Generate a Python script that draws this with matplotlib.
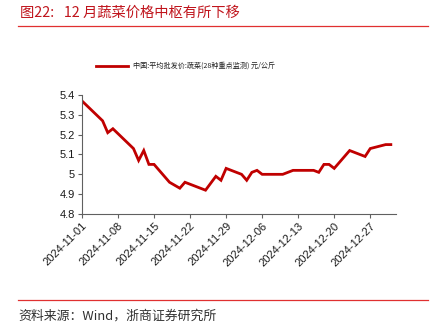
import numpy as np
import matplotlib.pyplot as plt
import matplotlib.dates as mdates
import pandas as pd
from matplotlib.lines import Line2D

plt.rcParams['font.family'] = ['Liberation Sans', 'Noto Sans CJK SC', 'DejaVu Sans']

# 平均批发价: 蔬菜(28种重点监测), 元/公斤
dates = ['2024-11-01', '2024-11-05', '2024-11-06', '2024-11-07', '2024-11-11',
         '2024-11-12', '2024-11-13', '2024-11-14', '2024-11-15', '2024-11-18',
         '2024-11-20', '2024-11-21', '2024-11-25', '2024-11-27', '2024-11-28',
         '2024-11-29', '2024-12-02', '2024-12-03', '2024-12-04', '2024-12-05',
         '2024-12-06', '2024-12-10', '2024-12-12', '2024-12-16', '2024-12-17',
         '2024-12-18', '2024-12-19', '2024-12-20', '2024-12-23', '2024-12-26',
         '2024-12-27', '2024-12-30', '2024-12-31']
price = [5.37, 5.27, 5.21, 5.23, 5.13,
         5.07, 5.12, 5.05, 5.05, 4.96,
         4.93, 4.96, 4.92, 4.99, 4.97,
         5.03, 5.00, 4.97, 5.01, 5.02,
         5.00, 5.00, 5.02, 5.02, 5.01,
         5.05, 5.05, 5.03, 5.12, 5.09,
         5.13, 5.15, 5.15]
tick_dates = ['2024-11-01', '2024-11-08', '2024-11-15', '2024-11-22', '2024-11-29',
              '2024-12-06', '2024-12-13', '2024-12-20', '2024-12-27']
yticks = [4.8, 4.9, 5.0, 5.1, 5.2, 5.3, 5.4]

red = '#C00000'
cjk = ['Noto Sans CJK SC', 'DejaVu Sans']

fig = plt.figure(figsize=(4.39, 3.33), dpi=100)
ax = fig.add_axes([0.1868, 0.3574, 0.7152, 0.3573])

x = pd.to_datetime(dates)
ax.plot(x, price, color=red, lw=2.0, solid_joinstyle='miter')

ax.set_ylim(4.8, 5.4)
ax.set_yticks(yticks)
ax.set_yticklabels(['%g' % v for v in yticks], fontsize=8)
ax.set_xlim(pd.Timestamp('2024-11-01'), pd.Timestamp('2025-01-01'))
ax.set_xticks(pd.to_datetime(tick_dates))
ax.set_xticklabels(tick_dates, fontsize=8, rotation=45, ha='right',
                   rotation_mode='anchor')

for s in ['top', 'right']:
    ax.spines[s].set_visible(False)
for s in ['left', 'bottom']:
    ax.spines[s].set_color('#606060')
    ax.spines[s].set_linewidth(0.8)
ax.tick_params(direction='out', length=3, width=0.8, color='#606060',
               labelcolor='#1a1a1a', pad=2)

# legend above the plot
fig.add_artist(Line2D([96 / 439, 128 / 439], [1 - 66 / 333] * 2,
                      color=red, lw=2.0))
fig.text(133 / 439, 1 - 66 / 333, '中国:平均批发价:蔬菜(28种重点监测) 元/公斤',
         fontsize=5.1, va='center', family=cjk, color='#202020')

# title and source
fig.text(20 / 439, 1 - 13 / 333, '图22:   12 月蔬菜价格中枢有所下移',
         fontsize=10.3, va='center', family=cjk, color='#C0141C')
fig.add_artist(Line2D([18 / 439, 428 / 439], [1 - 26 / 333] * 2,
                      color='#E03030', lw=0.9))
fig.add_artist(Line2D([18 / 439, 428 / 439], [1 - 300 / 333] * 2,
                      color='#E03030', lw=0.9))
fig.text(18 / 439, 1 - 316 / 333, '资料来源：Wind，浙商证券研究所',
         fontsize=9.3, va='center', family=cjk, color='#303030')

fig.savefig('out.png', dpi=100)
